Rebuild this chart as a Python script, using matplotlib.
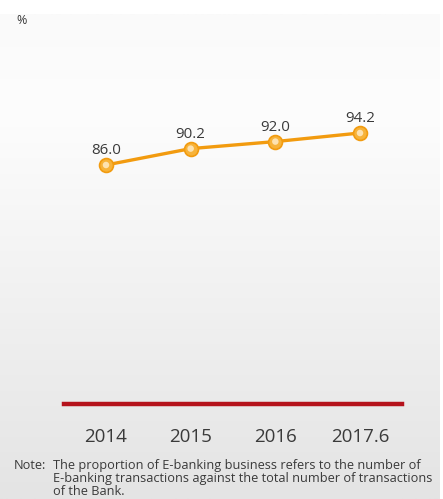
import numpy as np
import matplotlib
matplotlib.use("Agg")
import matplotlib.pyplot as plt
from matplotlib.colors import LinearSegmentedColormap

plt.rcParams['font.family'] = ['Open Sans', 'DejaVu Sans']

years = ["2014", "2015", "2016", "2017.6"]
values = [86.0, 90.2, 92.0, 94.2]
value_labels = ["86.0", "90.2", "92.0", "94.2"]
unit_label = "%"
note_head = "Note:"
note_body = ("The proportion of E-banking business refers to the number of\n"
             "E-banking transactions against the total number of transactions\n"
             "of the Bank.")

W, H = 443, 499
fig = plt.figure(figsize=(W / 100, H / 100), dpi=100)
fig.patch.set_facecolor("white")

# background gradient
bg = fig.add_axes([0, 0, 440 / W, (H - 14) / H], zorder=0)
grad = np.linspace(0, 1, 256).reshape(-1, 1)
cmap = LinearSegmentedColormap.from_list(
    "bg", [(0.0, "#e4e4e4"), (0.35, "#efefef"), (0.8, "#fdfdfd"), (1.0, "#fafafa")])
bg.imshow(grad, aspect="auto", cmap=cmap, origin="lower", extent=[0, 1, 0, 1])
bg.set_axis_off()

# main axes: x from 64 to 402 px, bottom at y=404 px
left_px, right_px = 64, 402
bottom_px, top_px = 404, 40
ax = fig.add_axes([left_px / W, 1 - bottom_px / H, (right_px - left_px) / W,
                   (bottom_px - top_px) / H], zorder=1)
ax.patch.set_alpha(0)
x = np.arange(len(years))
step = (360 - 106) / 3
x0 = -(106 - left_px) / step
x1 = 3 + (right_px - 360) / step
ax.set_xlim(x0, x1)
ppu = (165 - 133) / (94.2 - 86.0)
ymin = 86.0 - (bottom_px - 165) / ppu
ymax = 86.0 + (165 - top_px) / ppu
ax.set_ylim(ymin, ymax)

ax.plot(x, values, color="#f29b0f", lw=2.4, zorder=2)
ax.scatter(x, values, s=100, color="#f7b33a", edgecolor="#f29b0f", linewidth=1.2, zorder=3)
ax.scatter(x, values, s=22, color="#fde2b0", edgecolor="none", zorder=4)
for xi, v, lab in zip(x, values, value_labels):
    ax.annotate(lab, (xi, v), xytext=(0, 5), textcoords="offset points",
                ha="center", va="bottom", fontsize=10.8, color="#3a3a3a")

for s in ["top", "right", "left"]:
    ax.spines[s].set_visible(False)
ax.spines["bottom"].set_color("#b5121b")
ax.spines["bottom"].set_linewidth(3.2)
ax.set_yticks([])
ax.set_xticks(x)
ax.set_xticklabels(years, fontsize=13.5, color="#3a3a3a")
ax.tick_params(axis="x", length=0, pad=17)

fig.text(16 / W, 1 - 20 / H, unit_label, fontsize=9, color="#3a3a3a", va="center", ha="left")
fig.text(14 / W, 1 - 459 / H, note_head, fontsize=9.2, color="#3a3a3a", va="top", ha="left")
fig.text(53 / W, 1 - 459 / H, note_body, fontsize=9.2, color="#3a3a3a", va="top", ha="left",
         linespacing=0.98)

fig.savefig("out.png", dpi=100)
